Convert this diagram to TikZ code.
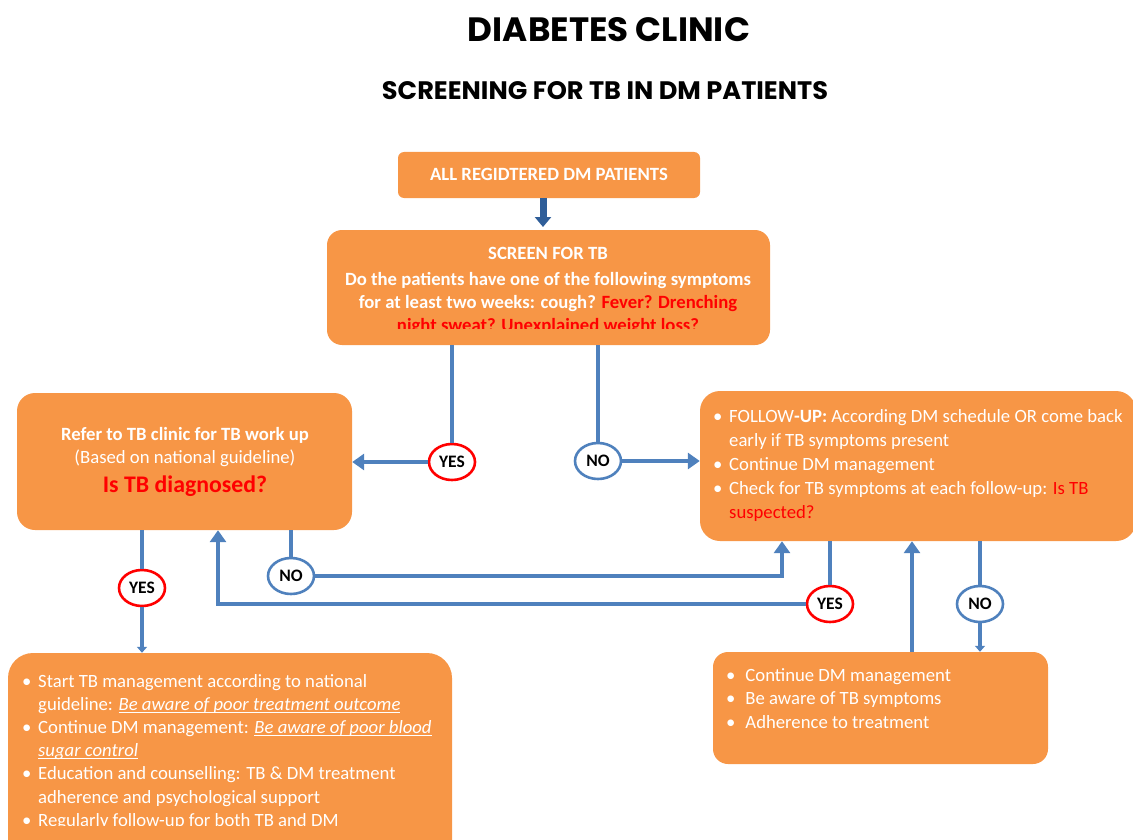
\documentclass[tikz,border=0pt]{standalone}
\usepackage{fontspec}
\setmainfont{Carlito}
\newfontfamily\headfont{Poppins}
\usepackage{graphicx}
\usetikzlibrary{arrows.meta,shapes.geometric}

\definecolor{boxorange}{HTML}{F79646}
\definecolor{linkblue}{HTML}{4F81BD}
\definecolor{darkblue}{HTML}{2F5E99}
\definecolor{alertred}{HTML}{FF0000}

% bullet with a fixed hanging width
\newcommand\bul[1][16pt]{\makebox[#1][l]{\textbullet}}
% italic text with a flat underline just below the baseline
\newcommand\ulit[1]{\setbox0\hbox{\itshape #1}\rlap{\rule[-2.6pt]{\wd0}{0.9pt}}\box0}
\newcommand\alert[1]{\textcolor{alertred}{#1}}

\begin{document}
\begin{tikzpicture}[x=1pt,y=-1pt,
  panel/.style={fill=boxorange, draw=none, inner sep=0pt},
  body/.style={inner sep=0pt, text=white, font=\fontsize{18.7}{23}\selectfont},
  link/.style={draw=linkblue, line width=4pt},
  linkarrow/.style={link, -{Triangle[width=16pt,length=12pt]}},
  smallarrow/.style={link, -{Triangle[width=10pt,length=6pt]}},
  answer/.style={ellipse, fill=white, line width=2.6pt, minimum width=46pt,
    minimum height=36pt, inner sep=0pt, text=black,
    font=\fontsize{17.5}{18}\selectfont\bfseries},
  yes/.style={answer, draw=alertred},
  no/.style={answer, draw=linkblue}]

\useasboundingbox (0,0) rectangle (1133,840);
\clip (0,0) rectangle (1133,840);

% headings
\node[inner sep=0pt] (title) at (609,30)
  {\resizebox{282pt}{24pt}{\headfont\bfseries DIABETES CLINIC}};
\node[inner sep=0pt] (subtitle) at (605,91)
  {\resizebox{446pt}{18pt}{\headfont\bfseries SCREENING FOR TB IN DM PATIENTS}};

% boxes
\node[panel, rounded corners=6pt, minimum width=302pt, minimum height=46pt] (start) at (549,175) {};
\node[panel, rounded corners=15pt, minimum width=443pt, minimum height=115pt] (screen) at (548.5,287.5) {};
\node[panel, rounded corners=18pt, minimum width=335pt, minimum height=137pt] (refer) at (184.5,461.5) {};
\node[panel, rounded corners=20pt, minimum width=436pt, minimum height=150pt] (follow) at (918,466) {};
\node[panel, rounded corners=25pt, minimum width=444pt, minimum height=217pt] (treat) at (230,761.5) {};
\node[panel, rounded corners=15pt, minimum width=335pt, minimum height=112pt] (dmcare) at (880.5,708) {};

% box texts
\node[body, anchor=base, font=\fontsize{18.7}{23}\selectfont\bfseries] (starttext) at (549,180)
  {ALL REGIDTERED DM PATIENTS};

\node[body, anchor=base, font=\fontsize{18.7}{23}\selectfont\bfseries] (screenhead) at (548,259)
  {SCREEN FOR TB};
\begin{scope}
  \clip (327,200) rectangle (770,328);
  \node[body, anchor=base, font=\fontsize{18.7}{23}\selectfont\bfseries] (screentext) at (548,285)
    {\begin{tabular}[t]{@{}c@{}}
      Do the patients have one of the following symptoms\\
      for at least two weeks: cough? \alert{Fever? Drenching}\\
      \alert{night sweat? Unexplained weight loss?}
    \end{tabular}};
\end{scope}

\node[body, anchor=base, font=\fontsize{18.7}{23}\selectfont\bfseries] (refer1) at (185,440)
  {Refer to TB clinic for TB work up};
\node[body, anchor=base] (refer2) at (185,463) {(Based on national guideline)};
\node[body, anchor=base, text=alertred, font=\fontsize{23.8}{28}\selectfont\bfseries] (refer3) at (185,492)
  {Is TB diagnosed?};

\node[body, anchor=base west, font=\fontsize{18.7}{24}\selectfont] (followtext) at (713,422)
  {\begin{tabular}[t]{@{}l@{}}
    \bul FOLLOW\textbf{-UP:} According DM schedule OR come back\\
    \hspace*{16pt}early if TB symptoms present\\
    \bul Continue DM management\\
    \bul Check for TB symptoms at each follow-up: \alert{Is TB}\\
    \hspace*{16pt}\alert{suspected?}
  \end{tabular}};

\begin{scope}
  \clip (0,640) rectangle (460,825);
  \node[body, anchor=base west, font=\fontsize{18.7}{23.2}\selectfont] (treattext) at (22,687)
    {\begin{tabular}[t]{@{}l@{}}
      \bul Start TB management according to national\\
      \hspace*{16pt}guideline: \ulit{Be aware of poor treatment outcome}\\
      \bul Continue DM management: \ulit{Be aware of poor blood}\\
      \hspace*{16pt}\ulit{sugar control}\\
      \bul Education and counselling: TB \& DM treatment\\
      \hspace*{16pt}adherence and psychological support\\
      \bul Regularly follow-up for both TB and DM
    \end{tabular}};
\end{scope}

\node[body, anchor=base west, font=\fontsize{18.7}{23.5}\selectfont] (dmcaretext) at (726,681)
  {\begin{tabular}[t]{@{}l@{}}
    \bul[15pt] Continue DM management\\
    \bul[15pt] Be aware of TB symptoms\\
    \bul[15pt] Adherence to treatment
  \end{tabular}};

% yes / no markers
\node[yes] (ys1) at (452,462) {YES};
\node[no]  (no1) at (598,461) {NO};
\node[yes] (ys2) at (142,588) {YES};
\node[no]  (no2) at (291,576) {NO};
\node[yes] (ys3) at (830,604) {YES};
\node[no]  (no3) at (980,604) {NO};

% bend points
\coordinate (nobend) at (782,576);
\coordinate (yesbend) at (218,604);
\coordinate (upline) at (912,600);
\coordinate (drop) at (543,227);

% connectors
\draw[darkblue, line width=7pt, -{Triangle[width=16pt,length=10pt]}]
  (drop |- start.south) -- (drop);

\draw[link] (ys1 |- screen.south) -- (ys1.north);
\draw[linkarrow] (ys1.west) -- (ys1.west -| refer.east);
\draw[link] (no1 |- screen.south) -- (no1.north);
\draw[linkarrow] (no1.east) -- (no1.east -| follow.west);

\draw[link] (ys2 |- refer.south) -- (ys2.north);
\draw[smallarrow] (ys2.south) -- (ys2 |- treat.north);
\draw[link] (no2 |- refer.south) -- (no2.north);
\draw[linkarrow] (no2.east) -- (no2.east -| nobend) -- (nobend |- follow.south);

\draw[link] (ys3 |- follow.south) -- (ys3.north);
\draw[linkarrow] (ys3.west) -- (ys3.west -| yesbend) -- (yesbend |- refer.south);
\draw[link] (no3 |- follow.south) -- (no3.north);
\draw[smallarrow] (no3.south) -- (no3 |- dmcare.north);

\draw[linkarrow, line width=4.5pt] (upline |- dmcare.north) -- (upline |- follow.south);

\end{tikzpicture}
\end{document}
